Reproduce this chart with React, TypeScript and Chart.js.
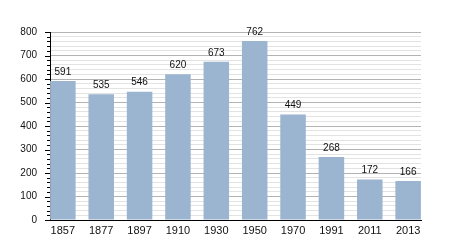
import React, { useEffect, useRef } from "react";
import { Chart, registerables } from "chart.js";

Chart.register(...registerables);

const years = ["1857", "1877", "1897", "1910", "1930", "1950", "1970", "1991", "2011", "2013"];
const population = [591, 535, 546, 620, 673, 762, 449, 268, 172, 166];
const yMax = 800;
const yMinorStep = 20;
const yMajorStep = 100;

const FONT = "'Liberation Sans', Arial, sans-serif";

export default function App() {
  const ref = useRef<HTMLCanvasElement | null>(null);

  useEffect(() => {
    document.body.style.margin = "0";
    const canvas = ref.current;
    if (!canvas) return;

    const tickPlugin = {
      id: "yTickMarks",
      afterDraw(chart: any) {
        const y = chart.scales.y;
        const ctx = chart.ctx;
        ctx.save();
        ctx.strokeStyle = "#000";
        ctx.lineWidth = 1;
        for (let v = 0; v <= yMax; v += yMinorStep) {
          const py = Math.round(y.getPixelForValue(v)) + 0.5;
          const len = v % yMajorStep === 0 ? 5 : 3;
          ctx.beginPath();
          ctx.moveTo(y.right - len, py);
          ctx.lineTo(y.right, py);
          ctx.stroke();
        }
        ctx.restore();
      },
    };

    const labelPlugin = {
      id: "barLabels",
      afterDatasetsDraw(chart: any) {
        const ctx = chart.ctx;
        const meta = chart.getDatasetMeta(0);
        ctx.save();
        ctx.fillStyle = "#111";
        ctx.font = `10px ${FONT}`;
        ctx.textAlign = "center";
        ctx.textBaseline = "bottom";
        meta.data.forEach((bar: any, i: number) => {
          ctx.fillText(String(population[i]), bar.x, bar.y - 4);
        });
        ctx.restore();
      },
    };

    const chart = new Chart(canvas, {
      type: "bar",
      data: {
        datasets: [
          {
            data: population.map((v, i) => ({ x: i, y: v })),
            backgroundColor: "#9bb4cf",
            borderWidth: 0,
            categoryPercentage: 1,
            barPercentage: 0.665,
          },
        ],
      },
      options: {
        animation: false,
        responsive: false,
        events: [],
        layout: { padding: { top: 32, right: 29, left: 0, bottom: 0 } },
        plugins: { legend: { display: false }, tooltip: { enabled: false } },
        scales: {
          x: {
            type: "linear",
            offset: false,
            min: -0.335,
            max: 9.335,
            afterBuildTicks(scale: any) {
              scale.ticks = years.map((_, i) => ({ value: i }));
            },
            afterFit(scale: any) {
              scale.height = 30;
            },
            grid: { display: false, drawTicks: false, offset: false },
            border: { display: true, color: "#000", width: 1 },
            ticks: {
              autoSkip: false,
              maxRotation: 0,
              padding: 4,
              color: "#111",
              font: { family: FONT, size: 11 },
              callback: (v: any) => years[v as number] ?? "",
            },
          },
          y: {
            min: 0,
            max: yMax,
            afterFit(scale: any) {
              scale.width = 50;
            },
            grid: {
              drawTicks: false,
              color: (c: any) => (c.tick && c.tick.value % yMajorStep === 0 ? "#b3b3b3" : "#e3e3e3"),
            },
            border: { display: true, color: "#000", width: 1 },
            ticks: {
              stepSize: yMinorStep,
              autoSkip: false,
              padding: 13,
              color: "#111",
              font: { family: FONT, size: 10 },
              callback: (v: any) => ((v as number) % yMajorStep === 0 ? String(v) : ""),
            },
          },
        },
      },
      plugins: [tickPlugin, labelPlugin],
    });

    return () => chart.destroy();
  }, []);

  return <canvas ref={ref} width={450} height={250} style={{ display: "block" }} />;
}
